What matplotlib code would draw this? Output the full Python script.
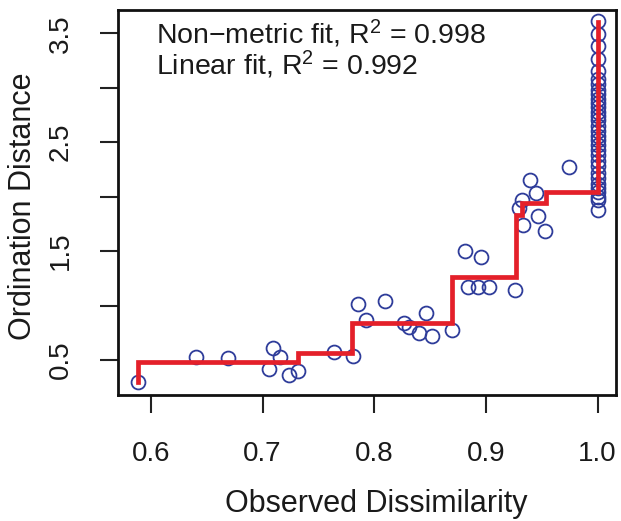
import matplotlib
matplotlib.use("Agg")
import matplotlib.pyplot as plt
import numpy as np

plt.rcParams['font.family'] = ['Liberation Sans', 'DejaVu Sans']
plt.rcParams['mathtext.fontset'] = 'custom'
plt.rcParams['mathtext.rm'] = 'Liberation Sans'
plt.rcParams['mathtext.it'] = 'Liberation Sans:italic'

# Observed dissimilarity vs ordination distance
obs_x = [0.588, 0.640, 0.669, 0.709, 0.7155, 0.706, 0.724, 0.732, 0.7635, 0.781,
         0.7856, 0.8095, 0.7925, 0.827, 0.831, 0.840, 0.846, 0.852, 0.870,
         0.8814, 0.8954, 0.8843, 0.8933, 0.9029, 0.926,
         0.9393, 0.9447, 0.9327, 0.930, 0.947, 0.9333, 0.953, 0.974]
ord_y = [0.30, 0.525, 0.516, 0.613, 0.525, 0.414, 0.362, 0.40, 0.576, 0.54,
         1.015, 1.045, 0.868, 0.843, 0.806, 0.745, 0.93, 0.72, 0.776,
         1.496, 1.445, 1.169, 1.169, 1.169, 1.144,
         2.156, 2.033, 1.972, 1.895, 1.825, 1.742, 1.68, 2.273]
# points at dissimilarity 1.0
col_y = [3.61, 3.49, 3.38, 3.26, 3.15, 3.08, 3.03, 2.98, 2.94, 2.90, 2.86, 2.82,
         2.78, 2.74, 2.70, 2.65, 2.60, 2.56, 2.52, 2.47, 2.43, 2.38, 2.33, 2.28,
         2.22, 2.17, 2.12, 2.08, 2.04, 2.00, 1.97, 1.88]
col_x = [1.0] * len(col_y)

# Non-metric (monotone) step fit
step_x = [0.588, 0.588, 0.732, 0.7805, 0.870, 0.9268, 0.9327, 0.9536, 1.0]
step_y = [0.30, 0.478, 0.561, 0.843, 1.266, 1.83, 1.94, 2.04, 3.60]

xticks = [0.6, 0.7, 0.8, 0.9, 1.0]
xticklabels = ["0.6", "0.7", "0.8", "0.9", "1.0"]
yticks = [0.5, 1.0, 1.5, 2.0, 2.5, 3.0, 3.5]
yticklabels = ["0.5", "", "1.5", "", "2.5", "", "3.5"]

fig = plt.figure(figsize=(6.21, 5.21), dpi=100)
ax = fig.add_axes([118 / 621, 1 - 395 / 521, (616 - 118) / 621, (395 - 10) / 521])

blue = '#2E3C9A'
ax.plot(obs_x + col_x, ord_y + col_y, linestyle='none', marker='o', markersize=10,
        markerfacecolor='none', markeredgecolor=blue, markeredgewidth=1.3, zorder=2)
ax.step(step_x, step_y, where='post', color='#E4202A', linewidth=3.4, zorder=3,
        solid_joinstyle='miter')

ax.set_xlim(0.5705, 1.0165)
ax.set_ylim(0.178, 3.714)
ax.set_xticks(xticks)
ax.set_xticklabels(xticklabels, fontsize=20)
ax.set_yticks(yticks)
ax.set_yticklabels(yticklabels, fontsize=20, rotation=90, va='center')
ax.tick_params(axis='both', direction='out', length=13, width=1.5, color='#222222',
               labelcolor='#1a1a1a')
ax.tick_params(axis='x', pad=20)
ax.tick_params(axis='y', pad=19)
for s in ax.spines.values():
    s.set_linewidth(2.0)
    s.set_color('#111111')

fig.text(376 / 621, 1 - 504 / 521, "Observed Dissimilarity", fontsize=22,
         ha='center', va='center', color='#1a1a1a')
fig.text(23 / 621, 1 - 206 / 521, "Ordination Distance", fontsize=22,
         ha='center', va='center', rotation=90, color='#1a1a1a')

fig.text(156 / 621, 1 - 44 / 521, "Non\u2212metric fit, R$^2$ = 0.998", fontsize=20.5,
         ha='left', va='baseline', color='#1a1a1a')
fig.text(156 / 621, 1 - 75 / 521, "Linear fit, R$^2$ = 0.992", fontsize=20.5,
         ha='left', va='baseline', color='#1a1a1a')

fig.savefig("out.png", dpi=100)
